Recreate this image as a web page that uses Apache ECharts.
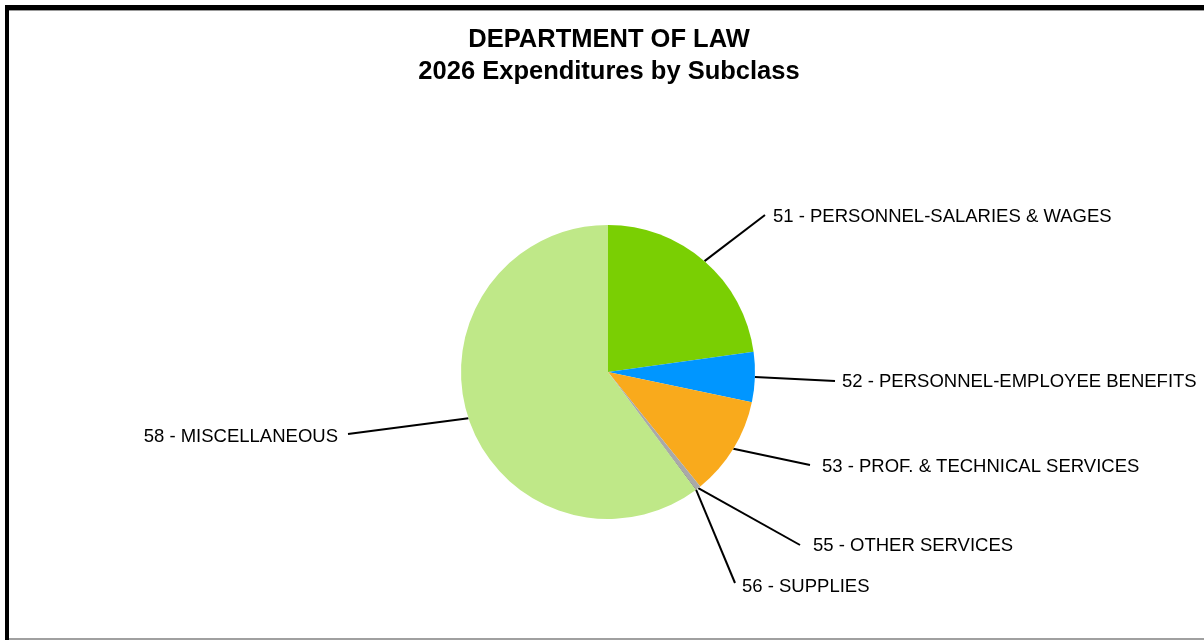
<!DOCTYPE html>
<html>
<head>
<meta charset="utf-8">
<script src="https://cdn.jsdelivr.net/npm/echarts@6/dist/echarts.min.js"></script>
<style>
  html, body { margin: 0; padding: 0; background: #fff; }
  #chart { width: 1204px; height: 640px; }
</style>
</head>
<body>
<div id="chart"></div>
<script>
// Subclass names and their share of 2026 expenditures (percent)
const subclasses = [
  '51 - PERSONNEL-SALARIES & WAGES',
  '52 - PERSONNEL-EMPLOYEE BENEFITS',
  '53 - PROF. & TECHNICAL SERVICES',
  '55 - OTHER SERVICES',
  '56 - SUPPLIES',
  '58 - MISCELLANEOUS'
];
const shares = [22.8, 5.5, 10.9, 0.55, 0.06, 60.19];
const sliceColors = ['#7acf03', '#0096ff', '#f9aa1c', '#a9a9a9', '#6e6e6e', '#bfe888'];
const titleLines = ['DEPARTMENT OF LAW', '2026 Expenditures by Subclass'];

// Label anchor offsets from the pie centre (px) and leader-line end gaps
const labelOffsets = [
  [165, -155], [234, 10], [214, 95], [205, 174], [134, 215], [-270, 65]
];
const lineGaps = [
  [-8, -2], [-7, -1], [-12, -2], [-13, -1], [-7, -4], [10, -3]
];

const chart = echarts.init(document.getElementById('chart'));
const W = 1204, H = 640;
const cx = 608, cy = 372;
const titleFont = {
  fontFamily: 'Liberation Sans, Arial, sans-serif',
  fontWeight: 'bold',
  fontSize: 25.5,
  fill: '#000',
  align: 'center',
  verticalAlign: 'middle'
};

chart.setOption({
  animation: false,
  backgroundColor: '#ffffff',
  graphic: [
    { type: 'rect', shape: { x: 5, y: 5, width: W - 5, height: 5 }, style: { fill: '#000' } },
    { type: 'rect', shape: { x: 9, y: 10, width: W - 9, height: 1 }, style: { fill: '#999' } },
    { type: 'rect', shape: { x: 5, y: 5, width: 4, height: H - 5 }, style: { fill: '#000' } },
    { type: 'rect', shape: { x: 9, y: H - 2, width: W - 9, height: 2 }, style: { fill: '#a0a0a0' } },
    { type: 'text', x: 609, y: 40, style: Object.assign({ text: titleLines[0] }, titleFont) },
    { type: 'text', x: 609, y: 72, style: Object.assign({ text: titleLines[1] }, titleFont) }
  ],
  series: [{
    type: 'pie',
    center: [cx, cy],
    radius: 147,
    startAngle: 90,
    clockwise: true,
    minAngle: 0,
    avoidLabelOverlap: false,
    itemStyle: { borderWidth: 0 },
    emphasis: { disabled: true },
    label: {
      show: true,
      position: 'outside',
      formatter: '{b}',
      fontFamily: 'Liberation Sans, Arial, sans-serif',
      fontSize: 18.5,
      color: '#000'
    },
    labelLine: {
      show: true,
      length: 10,
      length2: 10,
      smooth: false,
      lineStyle: { color: '#000', width: 2 }
    },
    labelLayout: function (p) {
      const i = p.dataIndex;
      const off = labelOffsets[i];
      const gap = lineGaps[i];
      const lx = cx + off[0];
      const ly = cy + off[1];
      const start = p.labelLinePoints ? p.labelLinePoints[0] : [cx, cy];
      return {
        x: lx,
        y: ly,
        align: off[0] < 0 ? 'right' : 'left',
        verticalAlign: 'middle',
        labelLinePoints: [start, [lx + gap[0], ly + gap[1]], [lx + gap[0], ly + gap[1]]]
      };
    },
    data: subclasses.map((name, i) => ({
      name: name,
      value: shares[i],
      itemStyle: { color: sliceColors[i] }
    }))
  }]
});
</script>
</body>
</html>
